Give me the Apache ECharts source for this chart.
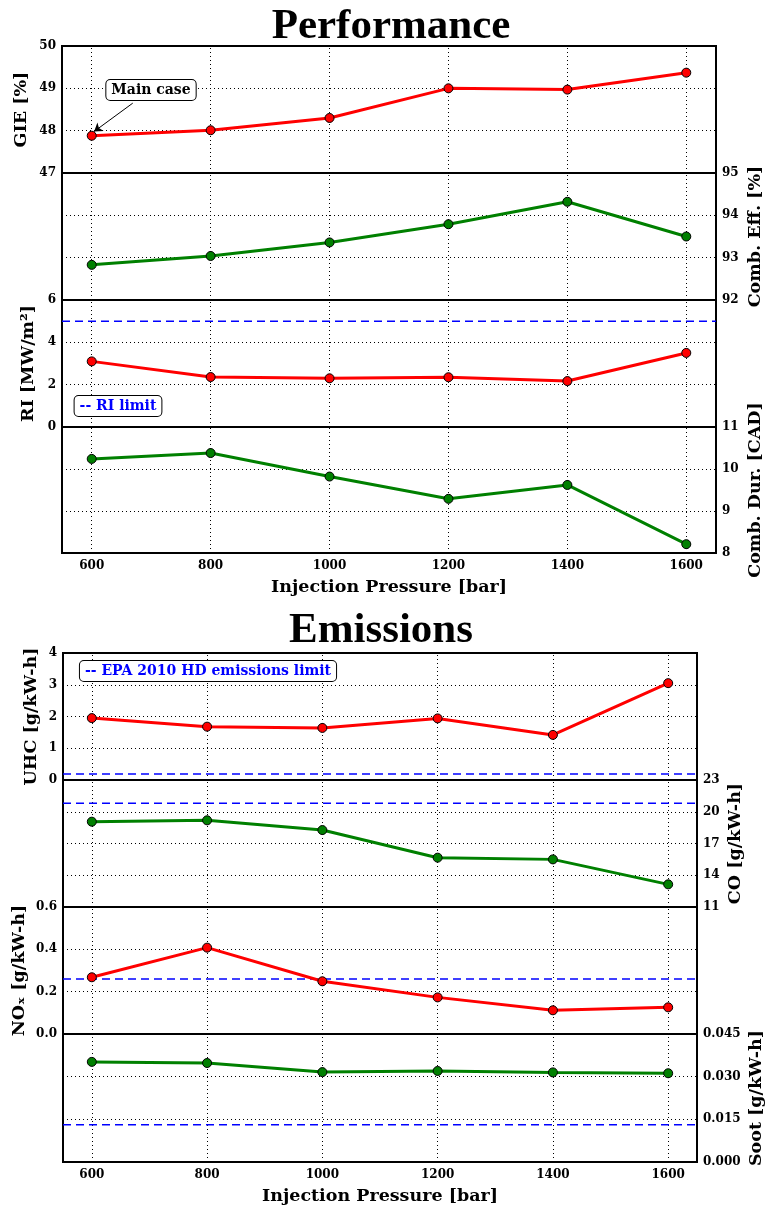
<!DOCTYPE html>
<html><head><meta charset="utf-8">
<script src="https://cdn.jsdelivr.net/npm/echarts@6/dist/echarts.min.js"></script>
<style>html,body{margin:0;padding:0;background:#fff}#c{width:766px;height:1210px}</style>
</head><body><div id="c"></div>
<script>
// ---------- data ----------
const pressure = [600, 800, 1000, 1200, 1400, 1600];
const pressureTicks = [600, 800, 1000, 1200, 1400, 1600];
const pressureRange = [550, 1650];
const gie = [47.88, 48.01, 48.30, 49.00, 48.97, 49.37];
const combEff = [92.83, 93.04, 93.36, 93.79, 94.32, 93.50];
const ri = [3.10, 2.36, 2.30, 2.35, 2.17, 3.50];
const combDur = [10.24, 10.38, 9.82, 9.29, 9.62, 8.21];
const uhc = [1.95, 1.68, 1.64, 1.94, 1.42, 3.05];
const co = [19.06, 19.19, 18.27, 15.66, 15.50, 13.14];
const nox = [0.268, 0.408, 0.249, 0.173, 0.112, 0.126];
const soot = [0.0352, 0.0348, 0.0316, 0.0320, 0.0315, 0.0312];
const riLimit = 5.0;
const uhcLimit = 0.19;
const coLimit = 20.8;
const noxLimit = 0.26;
const sootLimit = 0.0131;
const coTicks = [11, 14, 17, 20, 23];
const mainCase = [600, 47.88];

// ---------- styling ----------
const SERIF = '"DejaVu Serif", serif';
const TITLE = '"Liberation Serif", "Times New Roman", serif';
const RED = '#ff0000', GREEN = '#008000', BLUE = '#0000ff';

const panels = [
  {top:46,  h:127, left:62, w:654, vals:gie,     color:RED,   min:47, max:50, interval:1, side:'left',  name:'GIE [%]',          gap:32},
  {top:173, h:127, left:62, w:654, vals:combEff, color:GREEN, min:92, max:95, interval:1, side:'right', name:'Comb. Eff. [%]',   gap:30},
  {top:300, h:127, left:62, w:654, vals:ri,      color:RED,   min:0,  max:6,  interval:2, side:'left',  name:'RI [MW/m²]',       gap:25, limit:riLimit},
  {top:427, h:126, left:62, w:654, vals:combDur, color:GREEN, min:8,  max:11, interval:1, side:'right', name:'Comb. Dur. [CAD]', gap:30, xlab:true},
  {top:653, h:127, left:63, w:634, vals:uhc,     color:RED,   min:0,  max:4,  interval:1, side:'left',  name:'UHC [g/kW-h]',     gap:23, limit:uhcLimit},
  {top:780, h:127, left:63, w:634, vals:co,      color:GREEN, min:11, max:23, custom:coTicks, side:'right', name:'CO [g/kW-h]', gap:29, limit:coLimit},
  {top:907, h:127, left:63, w:634, vals:nox,     color:RED,   min:0,  max:0.6, interval:0.2, side:'left', name:'NOₓ [g/kW-h]',   gap:35, limit:noxLimit, fmt:v=>v.toFixed(1)},
  {top:1034,h:128, left:63, w:634, vals:soot,    color:GREEN, min:0,  max:0.045, interval:0.015, side:'right', name:'Soot [g/kW-h]', gap:50, limit:sootLimit, fmt:v=>v.toFixed(3), xlab:true}
];

const dotted = {type:[1,3], color:'#000', width:1};
const grids = [], xAxes = [], yAxes = [], series = [];

panels.forEach((p, i) => {
  grids.push({left:p.left, top:p.top, width:p.w, height:p.h, show:true, borderColor:'#000', borderWidth:2,
              containLabel:false, outerBoundsMode:'none'});
  xAxes.push({
    type:'value', gridIndex:i, min:pressureRange[0], max:pressureRange[1],
    axisLine:{show:false}, axisTick:{show:false}, splitLine:{show:false},
    axisLabel:{show:!!p.xlab, customValues:pressureTicks, formatter:v=>String(v), color:'#000', fontFamily:SERIF, fontWeight:'bold', fontSize:12, margin:7},
    name: p.xlab ? 'Injection Pressure [bar]' : '', nameLocation:'middle', nameGap:25, nameMoveOverlap:false,
    nameTextStyle:{color:'#000', fontFamily:SERIF, fontWeight:'bold', fontSize:17.5}
  });
  const ya = {
    type:'value', gridIndex:i, position:p.side, min:p.min, max:p.max,
    axisLine:{show:false}, axisTick:{show:false},
    axisLabel:{color:'#000', fontFamily:SERIF, fontWeight:'bold', fontSize:12, margin:6},
    splitLine:{show:!p.custom, lineStyle:dotted},
    name:p.name, nameLocation:'middle', nameRotate:90, nameGap:p.gap, nameMoveOverlap:false,
    nameTextStyle:{color:'#000', fontFamily:SERIF, fontWeight:'bold', fontSize:17.5}
  };
  if (p.custom) ya.axisLabel.customValues = p.custom; else ya.interval = p.interval;
  if (p.fmt) ya.axisLabel.formatter = p.fmt;
  yAxes.push(ya);

  const ml = pressureTicks.map(x => ({xAxis:x, lineStyle:dotted}));
  if (p.custom) p.custom.slice(1, -1).forEach(v => ml.push({yAxis:v, lineStyle:dotted}));
  if (i === 0) ml.push([
    {coord:[669, 48.65], symbol:'none', lineStyle:{type:'solid', color:'#000', width:1}},
    {coord:[mainCase[0] + 4, mainCase[1] + 0.1], symbol:'arrow'}
  ]);

  series.push({
    type:'line', xAxisIndex:i, yAxisIndex:i,
    data: pressure.map((x, k) => [x, p.vals[k]]),
    symbol:'circle', symbolSize:9, showSymbol:true,
    lineStyle:{color:p.color, width:3},
    itemStyle:{color:p.color, borderColor:'#000', borderWidth:1},
    z:3,
    markLine:{silent:true, symbol:['none','none'], symbolSize:8, label:{show:false}, animation:false, data:ml, z:2}
  });
  if (p.limit !== undefined) {
    series.push({
      type:'line', xAxisIndex:i, yAxisIndex:i, silent:true, showSymbol:false, symbol:'none', z:2,
      data: pressureRange.map(x => [x, p.limit]),
      lineStyle:{type:[8,5], color:BLUE, width:1.5}
    });
  }
});

const boxStyle = (text, x, y, fill) => ({
  type:'text', z:10,
  style:{text, x, y, fill, font:'bold 14px ' + SERIF, align:'center', verticalAlign:'middle',
         textAlign:'center', textVerticalAlign:'middle',
         backgroundColor:'#fff', borderColor:'#000', borderWidth:1, borderRadius:4, padding:[3,5,3,5]}
});

const chart = echarts.init(document.getElementById('c'), null, {renderer:'canvas'});
chart.setOption({
  animation:false,
  backgroundColor:'#fff',
  grid:grids, xAxis:xAxes, yAxis:yAxes, series,
  graphic:[
    {type:'text', style:{text:'Performance', x:391, y:27, fill:'#000', font:'bold 43px ' + TITLE, align:'center', verticalAlign:'middle', textAlign:'center', textVerticalAlign:'middle'}},
    {type:'text', style:{text:'Emissions', x:381, y:631, fill:'#000', font:'bold 43px ' + TITLE, align:'center', verticalAlign:'middle', textAlign:'center', textVerticalAlign:'middle'}},
    boxStyle('Main case', 151, 90, '#000'),
    boxStyle('-- RI limit', 118, 406, BLUE),
    boxStyle('-- EPA 2010 HD emissions limit', 208, 671, BLUE)
  ]
});
</script></body></html>
